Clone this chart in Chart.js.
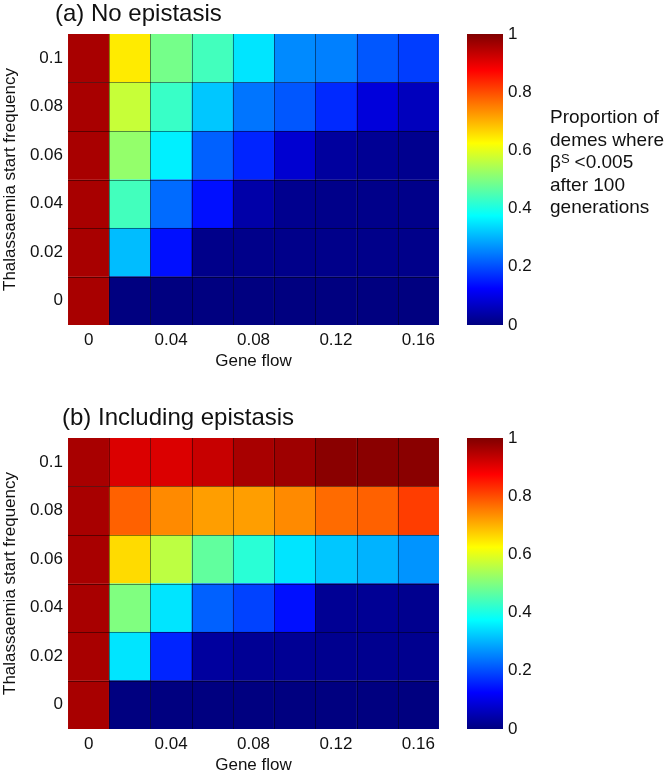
<!DOCTYPE html>
<html>
<head>
<meta charset="utf-8">
<script src="https://cdn.jsdelivr.net/npm/chart.js@4.4.1/dist/chart.umd.min.js"></script>
<style>
  html, body { margin: 0; padding: 0; background: #fff; }
  #page { position: relative; width: 669px; height: 777px; overflow: hidden; }
  .box { position: absolute; }
</style>
</head>
<body>
<div id="page">
  <div class="box" style="left:0;top:0;width:445px;height:380px"><canvas id="heatA"></canvas></div>
  <div class="box" style="left:440px;top:0;width:229px;height:380px"><canvas id="barA"></canvas></div>
  <div class="box" style="left:0;top:404px;width:445px;height:373px"><canvas id="heatB"></canvas></div>
  <div class="box" style="left:440px;top:404px;width:229px;height:373px"><canvas id="barB"></canvas></div>
</div>
<script>
const geneFlow = ['0', '0.02', '0.04', '0.06', '0.08', '0.1', '0.12', '0.14', '0.16']
const startFreq = [0, 0.02, 0.04, 0.06, 0.08, 0.1]
const colorbarTicks = [0, 0.2, 0.4, 0.6, 0.8, 1]

// (a) no epistasis, one array per start frequency, gene flow left to right
const noEpiF0 = [0.96, 0, 0, 0, 0, 0, 0, 0, 0]
const noEpiF002 = [0.96, 0.31, 0.14, 0.01, 0.01, 0.01, 0.01, 0.01, 0.01]
const noEpiF004 = [0.96, 0.44, 0.23, 0.14, 0.04, 0.015, 0.01, 0.01, 0.01]
const noEpiF006 = [0.96, 0.52, 0.36, 0.22, 0.16, 0.08, 0.03, 0.02, 0.015]
const noEpiF008 = [0.96, 0.57, 0.43, 0.32, 0.24, 0.21, 0.165, 0.09, 0.06]
const noEpiF010 = [0.96, 0.645, 0.49, 0.44, 0.35, 0.26, 0.25, 0.21, 0.185]

// (b) including epistasis
const epiF0 = [0.96, 0, 0, 0, 0, 0, 0, 0, 0]
const epiF002 = [0.96, 0.35, 0.16, 0.03, 0.02, 0.02, 0.015, 0.015, 0.015]
const epiF004 = [0.96, 0.5, 0.35, 0.22, 0.19, 0.14, 0.02, 0.02, 0.015]
const epiF006 = [0.96, 0.66, 0.56, 0.47, 0.415, 0.35, 0.32, 0.3, 0.27]
const epiF008 = [0.96, 0.78, 0.74, 0.72, 0.72, 0.74, 0.77, 0.78, 0.815]
const epiF010 = [0.96, 0.91, 0.91, 0.93, 0.96, 0.97, 0.99, 0.99, 0.99]

const noEpiRows = [noEpiF0, noEpiF002, noEpiF004, noEpiF006, noEpiF008, noEpiF010]
const epiRows = [epiF0, epiF002, epiF004, epiF006, epiF008, epiF010]

const FONT = "'Liberation Sans', Arial, sans-serif"
const INK = '#111'

function jet(v) {
  const c = (x) => Math.round(255 * Math.min(1, Math.max(0, x)))
  return `rgb(${c(1.5 - Math.abs(4 * v - 3))},${c(1.5 - Math.abs(4 * v - 2))},${c(1.5 - Math.abs(4 * v - 1))})`
}

const panelTitle = {
  id: 'panelTitle',
  afterDraw(chart, _args, opts) {
    if (!opts.text) return
    const { ctx } = chart
    ctx.save()
    ctx.font = `24px ${FONT}`
    ctx.fillStyle = INK
    ctx.textBaseline = 'middle'
    ctx.fillText(opts.text, opts.x, opts.y)
    ctx.restore()
  },
}

// thin dark edges between the cells, placed from the scales
const cellEdges = {
  id: 'cellEdges',
  afterDatasetsDraw(chart) {
    const { ctx, chartArea: a, scales: { x, y } } = chart
    const half = (x.getPixelForValue(1) - x.getPixelForValue(0)) / 2
    ctx.save()
    ctx.strokeStyle = 'rgba(0,0,0,0.45)'
    ctx.lineWidth = 1
    ctx.beginPath()
    for (let i = 1; i < geneFlow.length; i++) {
      const px = Math.round(x.getPixelForValue(i) - half) + 0.5
      ctx.moveTo(px, a.top)
      ctx.lineTo(px, a.bottom)
    }
    for (let r = 1; r < startFreq.length; r++) {
      const py = Math.round(y.getPixelForValue(startFreq[r] - 0.01)) + 0.5
      ctx.moveTo(a.left, py)
      ctx.lineTo(a.right, py)
    }
    ctx.stroke()
    ctx.restore()
  },
}

const jetFill = {
  id: 'jetFill',
  beforeDatasetsDraw(chart) {
    const { ctx, chartArea: a } = chart
    const g = ctx.createLinearGradient(0, a.bottom, 0, a.top)
    for (let i = 0; i <= 64; i++) g.addColorStop(i / 64, jet(i / 64))
    ctx.save()
    ctx.fillStyle = g
    ctx.fillRect(a.left, a.top, a.right - a.left, a.bottom - a.top)
    ctx.restore()
  },
}

const caption = {
  id: 'caption',
  afterDraw(chart, _args, opts) {
    if (!opts.show) return
    const { ctx } = chart
    const x = 110
    const y0 = 118
    const step = 22.5
    ctx.save()
    ctx.fillStyle = INK
    ctx.textBaseline = 'middle'
    ctx.font = `19px ${FONT}`
    ctx.fillText('Proportion of', x, y0)
    ctx.fillText('demes where', x, y0 + step)
    ctx.fillText('β', x, y0 + step * 2)
    const bw = ctx.measureText('β').width
    ctx.font = `13px ${FONT}`
    ctx.fillText('S', x + bw, y0 + step * 2 - 4)
    const sw = ctx.measureText('S').width
    ctx.font = `19px ${FONT}`
    ctx.fillText('<0.005', x + bw + sw + 5, y0 + step * 2)
    ctx.fillText('after 100', x, y0 + step * 3)
    ctx.fillText('generations', x, y0 + step * 4)
    ctx.restore()
  },
}

function heatChart(id, rows, title, titleX, height) {
  const datasets = rows.map((vals, r) => ({
    data: vals.map(() => [startFreq[r] - 0.01, startFreq[r] + 0.01]),
    backgroundColor: vals.map(jet),
    borderColor: vals.map(jet),
    borderWidth: 0.6,
    borderSkipped: false,
    grouped: false,
    barPercentage: 1,
    categoryPercentage: 1,
  }))
  return new Chart(document.getElementById(id), {
    type: 'bar',
    data: { labels: geneFlow, datasets },
    options: {
      responsive: true,
      maintainAspectRatio: false,
      animation: false,
      events: [],
      layout: { padding: { top: 34, right: 6, left: 0, bottom: 0 } },
      plugins: {
        legend: { display: false },
        tooltip: { enabled: false },
        panelTitle: { text: title, x: titleX, y: 14 },
      },
      scales: {
        x: {
          grid: { display: false },
          border: { display: false },
          afterFit: (s) => { s.height = height - 325 },
          ticks: {
            color: INK,
            font: { family: FONT, size: 17 },
            padding: -3,
            maxRotation: 0,
            autoSkip: false,
            callback: (_v, i) => (i % 2 === 0 ? geneFlow[i] : ''),
          },
          title: {
            display: true,
            text: 'Gene flow',
            color: INK,
            font: { family: FONT, size: 17 },
            padding: { top: 0, bottom: height - 361 - 10.2 },
          },
        },
        y: {
          min: -0.01,
          max: 0.11,
          grid: { display: false },
          border: { display: false },
          afterFit: (s) => { s.width = 68 },
          afterBuildTicks: (s) => { s.ticks = startFreq.map((v) => ({ value: v })) },
          ticks: {
            color: INK,
            font: { family: FONT, size: 17 },
            padding: -3,
            callback: (v) => String(+Number(v).toFixed(2)),
          },
          title: {
            display: true,
            text: 'Thalassaemia start frequency',
            color: INK,
            font: { family: FONT, size: 17 },
            padding: 0,
          },
        },
      },
    },
    plugins: [panelTitle, cellEdges],
  })
}

function colorbarChart(id, showCaption, height) {
  return new Chart(document.getElementById(id), {
    type: 'bar',
    data: { labels: [''], datasets: [{ data: [null] }] },
    options: {
      responsive: true,
      maintainAspectRatio: false,
      animation: false,
      events: [],
      layout: { padding: { top: 34, left: 27, right: 0, bottom: height - 325 } },
      plugins: {
        legend: { display: false },
        tooltip: { enabled: false },
        caption: { show: showCaption },
      },
      scales: {
        x: { display: false },
        y: {
          position: 'right',
          min: 0,
          max: 1,
          grid: { display: false },
          border: { display: false },
          afterFit: (s) => { s.width = 166 },
          afterBuildTicks: (s) => { s.ticks = colorbarTicks.map((v) => ({ value: v })) },
          ticks: {
            color: INK,
            font: { family: FONT, size: 17 },
            padding: -3,
            callback: (v) => String(+Number(v).toFixed(1)),
          },
        },
      },
    },
    plugins: [jetFill, caption],
  })
}

heatChart('heatA', noEpiRows, '(a) No epistasis', 55, 380)
colorbarChart('barA', true, 380)
heatChart('heatB', epiRows, '(b) Including epistasis', 62, 373)
colorbarChart('barB', false, 373)
</script>
</body>
</html>
